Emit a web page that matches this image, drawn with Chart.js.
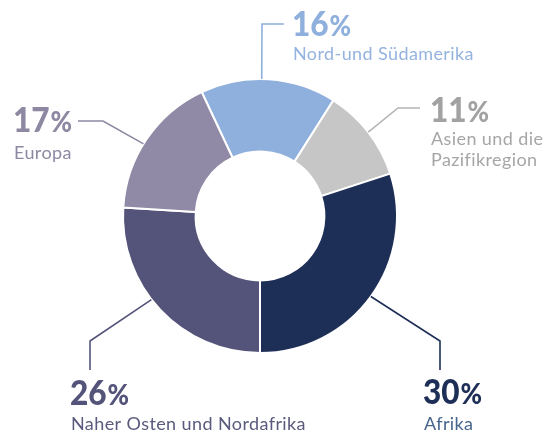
<!DOCTYPE html>
<html>
<head>
<meta charset="utf-8">
<script src="https://cdn.jsdelivr.net/npm/chart.js@4/dist/chart.umd.min.js"></script>
<style>
  html, body { margin: 0; padding: 0; background: #fff; }
  #wrap { width: 545px; height: 434px; }
</style>
</head>
<body>
<div id="wrap"><canvas id="regions" width="545" height="434"></canvas></div>
<script>
// data, clockwise from the top
const regions = ["Nord-und Südamerika", "Asien und die Pazifikregion", "Afrika", "Naher Osten und Nordafrika", "Europa"];
const shares = [16, 11, 30, 26, 17];
const nameLines = [["Nord-und Südamerika"], ["Asien und die", "Pazifikregion"], ["Afrika"], ["Naher Osten und Nordafrika"], ["Europa"]];

// styles
const sliceColors = ["#8fb0dc", "#c6c6c6", "#1e2f57", "#54547a", "#908aa6"];
const pctColors = ["#8fb0dc", "#a2a2a2", "#1e2f57", "#54547a", "#8e88a3"];
const nameColors = ["#94b3de", "#a6a6a6", "#46668c", "#5a5a7e", "#8e88a3"];
const lineColors = ["#8fb0dc", "#b4b4b4", "#1e2f57", "#54547a", "#8e88a3"];

// label layout: where on the arc the leader starts, its bend and end, text anchor
const labelLayout = [
    { frac: 0.45, bend: [262, 24], end: [284, 24], x: 292, pctY: 36, nameY: 60 },
    { frac: 0.5, bend: [398, 108], end: [420, 108], x: 430, pctY: 122, nameY: 145 },
    { frac: 0.5, bend: [440, 341], end: [440, 370], x: 423, pctY: 404, nameY: 430 },
    { frac: 0.56, bend: [90, 341], end: [90, 370], x: 70, pctY: 405, nameY: 430 },
    { frac: 0.46, bend: [103, 121], end: [78, 121], x: 13, pctY: 132, nameY: 159 }
];

const calloutPlugin = {
    id: "callouts",
    afterDatasetsDraw(chart) {
        const ctx = chart.ctx;
        const arcs = chart.getDatasetMeta(0).data;
        arcs.forEach((arc, i) => {
            const lay = labelLayout[i];
            const a = arc.startAngle + lay.frac * (arc.endAngle - arc.startAngle);
            const sx = arc.x + Math.cos(a) * arc.outerRadius;
            const sy = arc.y + Math.sin(a) * arc.outerRadius;

            ctx.save();
            ctx.strokeStyle = lineColors[i];
            ctx.lineWidth = 1.6;
            ctx.beginPath();
            ctx.moveTo(sx, sy);
            ctx.lineTo(lay.bend[0], lay.bend[1]);
            ctx.lineTo(lay.end[0], lay.end[1]);
            ctx.stroke();
            ctx.restore();

            // percentage: narrow bold digits and a smaller percent sign
            ctx.save();
            ctx.translate(lay.x, lay.pctY);
            ctx.scale(0.93, 1);
            ctx.fillStyle = pctColors[i];
            ctx.textBaseline = "alphabetic";
            ctx.textAlign = "left";
            ctx.font = "900 34px Lato";
            const num = String(shares[i]);
            ctx.fillText(num, 0, 0);
            const w = ctx.measureText(num).width;
            ctx.font = "900 28px Lato";
            ctx.fillText("%", w + 1, 0);
            ctx.restore();

            ctx.save();
            ctx.fillStyle = nameColors[i];
            ctx.font = "18px Lato";
            ctx.letterSpacing = "0.4px";
            ctx.textBaseline = "alphabetic";
            nameLines[i].forEach((line, k) => {
                ctx.fillText(line, lay.x + 1, lay.nameY + k * 21);
            });
            ctx.restore();
        });
    }
};

new Chart("regions", {
    type: "doughnut",
    data: {
        labels: regions,
        datasets: [{
            data: shares,
            backgroundColor: sliceColors,
            borderColor: "#ffffff",
            borderWidth: 2
        }]
    },
    options: {
        responsive: false,
        animation: false,
        rotation: -25.2,
        cutout: "47%",
        layout: {
            padding: { left: 122, right: 147, top: 78, bottom: 80 }
        },
        plugins: {
            legend: { display: false },
            tooltip: { enabled: false }
        }
    },
    plugins: [calloutPlugin]
});
</script>
</body>
</html>
